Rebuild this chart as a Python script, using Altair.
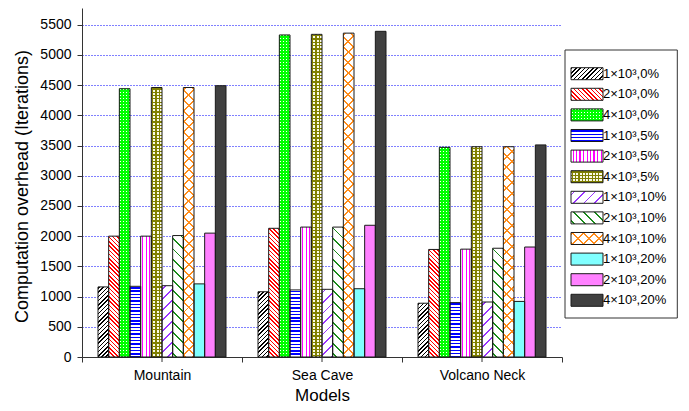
import math
import altair as alt
import pandas as pd

# ---------------- data ----------------
models = ["Mountain", "Sea Cave", "Volcano Neck"]
series = ["1×10³,0%", "2×10³,0%", "4×10³,0%",
          "1×10³,5%", "2×10³,5%", "4×10³,5%",
          "1×10³,10%", "2×10³,10%", "4×10³,10%",
          "1×10³,20%", "2×10³,20%", "4×10³,20%"]
mountain = [1160, 2000, 4440, 1170, 2000, 4460, 1180, 2010, 4460, 1210, 2050, 4490]
sea_cave = [1080, 2130, 5330, 1110, 2150, 5340, 1120, 2150, 5360, 1130, 2180, 5390]
volcano_neck = [890, 1780, 3470, 900, 1785, 3480, 910, 1800, 3480, 920, 1820, 3510]
y_ticks = [0, 500, 1000, 1500, 2000, 2500, 3000, 3500, 4000, 4500, 5000, 5500]

rows = []
for m, vals in zip(models, [mountain, sea_cave, volcano_neck]):
    for s, v in zip(series, vals):
        rows.append({"model": m, "series": s, "value": v})
df = pd.DataFrame(rows)
legend_df = pd.DataFrame({"series": series})

# ---------------- layout / style ----------------
W, H = 480, 349
YMAX = 5776
GROUP = W / 3
BAR_W = GROUP / 15.0
SW_W, SW_H = 32, 12
FONT = "Liberation Sans"
CLEAR = "rgba(255,255,255,0)"

# pattern definitions: (angle of stripe normal, period px, line px, line colour, background, phase)
patterns = {
    0: [(45, 3.0, 1.1, "#000000", "#ffffff", 0.5)],
    1: [(-45, 3.0, 1.1, "#ff0000", "#ffffff", 0.5)],
    2: [(90, 3.0, 1.0, "#ffffff", "#00ff00", 0.5), (0, 3.0, 1.0, CLEAR, "#00ff00", 0.8)],
    3: [(90, 3.3, 1.4, "#0000ff", "#ffffff", 0.8)],
    4: [(0, 3.5, 1.2, "#ff00ff", "#ffffff", 1.5)],
    5: [(90, 3.3, 1.2, "#808000", "#fbfbe8", 0.8), (0, 3.3, 1.2, "#808000", CLEAR, 0.8)],
    6: [(45, 7.4, 1.3, "#9933ff", "#ffffff", 2.0)],
    7: [(-45, 7.4, 1.3, "#1a8a1a", "#ffffff", 2.0)],
    8: [(45, 7.5, 1.4, "#ff8c1a", "#ffffff", 1.0), (-45, 7.5, 1.4, "#ff8c1a", CLEAR, 1.0)],
    9: "#80ffff",
    10: "#ff80ff",
    11: "#404040",
}


def r(x):
    return round(x, 5)


def stripes(w, h, ang, period, line, color, bg, phase):
    a = math.radians(ang)
    ux, uy = math.cos(a), math.sin(a)
    gx, gy = w * ux, h * uy
    n = math.hypot(gx, gy)
    gx, gy = gx / n, gy / n
    qs = [0.0, gx, gy, gx + gy]
    qmin, qmax = min(qs), max(qs)
    ds = [0.0, w * ux, h * uy, w * ux + h * uy]
    D = max(ds) - min(ds)
    stops = [{"offset": 0, "color": bg}]
    p = phase
    while p < D:
        a0 = r(p / D)
        a1 = r(min((p + line) / D, 1.0))
        stops += [{"offset": a0, "color": bg}, {"offset": a0, "color": color},
                  {"offset": a1, "color": color}, {"offset": a1, "color": bg}]
        p += period
    stops.append({"offset": 1, "color": bg})
    return {"gradient": "linear", "x1": r(qmin * gx), "y1": r(qmin * gy),
            "x2": r(qmax * gx), "y2": r(qmax * gy), "stops": stops}


def fill_for(idx, w, h, layer):
    p = patterns[idx]
    if isinstance(p, str):
        return p if layer == 0 else None
    if layer >= len(p):
        return None
    return stripes(w, h, *p[layer])


def bar_conditions(layer):
    conds = []
    for m, vals in zip(models, [mountain, sea_cave, volcano_neck]):
        for i, (s, v) in enumerate(zip(series, vals)):
            h = v * H / YMAX
            f = fill_for(i, BAR_W, h, layer)
            if f is not None:
                conds.append({"test": f"datum.model === '{m}' && datum.series === '{s}'", "value": f})
    return conds


def legend_conditions(layer):
    conds = []
    for i, s in enumerate(series):
        f = fill_for(i, SW_W, SW_H, layer)
        if f is not None:
            conds.append({"test": f"datum.series === '{s}'", "value": f})
    return conds


x_axis = alt.Axis(tickBand="extent", labelAngle=0, labelFontSize=14, labelPadding=6,
                  tickSize=5, tickColor="#333", domainColor="#333", labelColor="black",
                  title="Models", titleFontSize=17, titleFontWeight="normal",
                  titlePadding=5, titleColor="black")
x_enc = alt.X("model:N", sort=models, scale=alt.Scale(paddingInner=0, paddingOuter=0), axis=x_axis)
xoff = alt.XOffset("series:N", sort=series,
                   scale=alt.Scale(range=[GROUP * 0.1, GROUP * 0.9], paddingInner=0, paddingOuter=0))
y_scale = alt.Scale(domain=[0, YMAX], nice=False, zero=True)
y_enc = alt.Y("value:Q", scale=y_scale,
              axis=alt.Axis(values=y_ticks, format="d", grid=True, gridColor="#0000ff",
                            gridDash=[1, 2], gridWidth=1, tickSize=5, tickColor="#333",
                            domainColor="#333", labelFontSize=14, labelPadding=6,
                            labelColor="black", title="Computation overhead (Iterations)",
                            titleFontSize=18, titleFontWeight="normal", titlePadding=8,
                            titleY=178, titleColor="black"))
y_none = alt.Y("value:Q", scale=y_scale, axis=None)

base = alt.Chart(df).mark_bar(strokeWidth=0).encode(
    x=x_enc, xOffset=xoff, y=y_enc,
    fill=alt.FillValue(value="#ffffff", condition=bar_conditions(0)),
)
over = alt.Chart(df).mark_bar(stroke="#1a1a1a", strokeWidth=1).encode(
    x=x_enc, xOffset=xoff, y=y_none,
    fill=alt.FillValue(value="transparent", condition=bar_conditions(1)),
)
center_ticks = alt.Chart(pd.DataFrame({"model": models})).mark_rule(color="#333", strokeWidth=1).encode(
    x=x_enc, y=alt.value(H), y2=alt.value(H + 5),
)

# legend
leg_box = alt.Chart(pd.DataFrame({"k": [0]})).mark_rect(fill="white", stroke="#333", strokeWidth=1).encode(
    x=alt.value(483), x2=alt.value(595.3), y=alt.value(42), y2=alt.value(310),
)
leg_scale = alt.Scale(domain=series, range=[55.4, 302.6], paddingInner=0.417, paddingOuter=0.2085)
leg_y = alt.Y("series:N", sort=series, scale=leg_scale, axis=None)
leg_base = alt.Chart(legend_df).mark_rect(strokeWidth=0).encode(
    x=alt.value(489), x2=alt.value(489 + SW_W), y=leg_y,
    fill=alt.FillValue(value="#ffffff", condition=legend_conditions(0)),
)
leg_over = alt.Chart(legend_df).mark_rect(stroke="#1a1a1a", strokeWidth=1).encode(
    x=alt.value(489), x2=alt.value(489 + SW_W), y=leg_y,
    fill=alt.FillValue(value="transparent", condition=legend_conditions(1)),
)
leg_text = alt.Chart(legend_df).mark_text(align="left", baseline="middle", fontSize=13,
                                           font=FONT, color="black").encode(
    x=alt.value(521), y=leg_y, text="series:N",
)

chart = alt.layer(base, over, center_ticks, leg_box, leg_base, leg_over, leg_text).resolve_scale(
    y="independent"
).properties(
    width=W, height=H,
    autosize=alt.AutoSizeParams(type="none"),
    padding={"left": 74, "top": 0, "right": 118, "bottom": 46},
).configure(font=FONT).configure_view(stroke=None)

chart.save("out.html", embed_options={"renderer": "svg", "actions": False})
